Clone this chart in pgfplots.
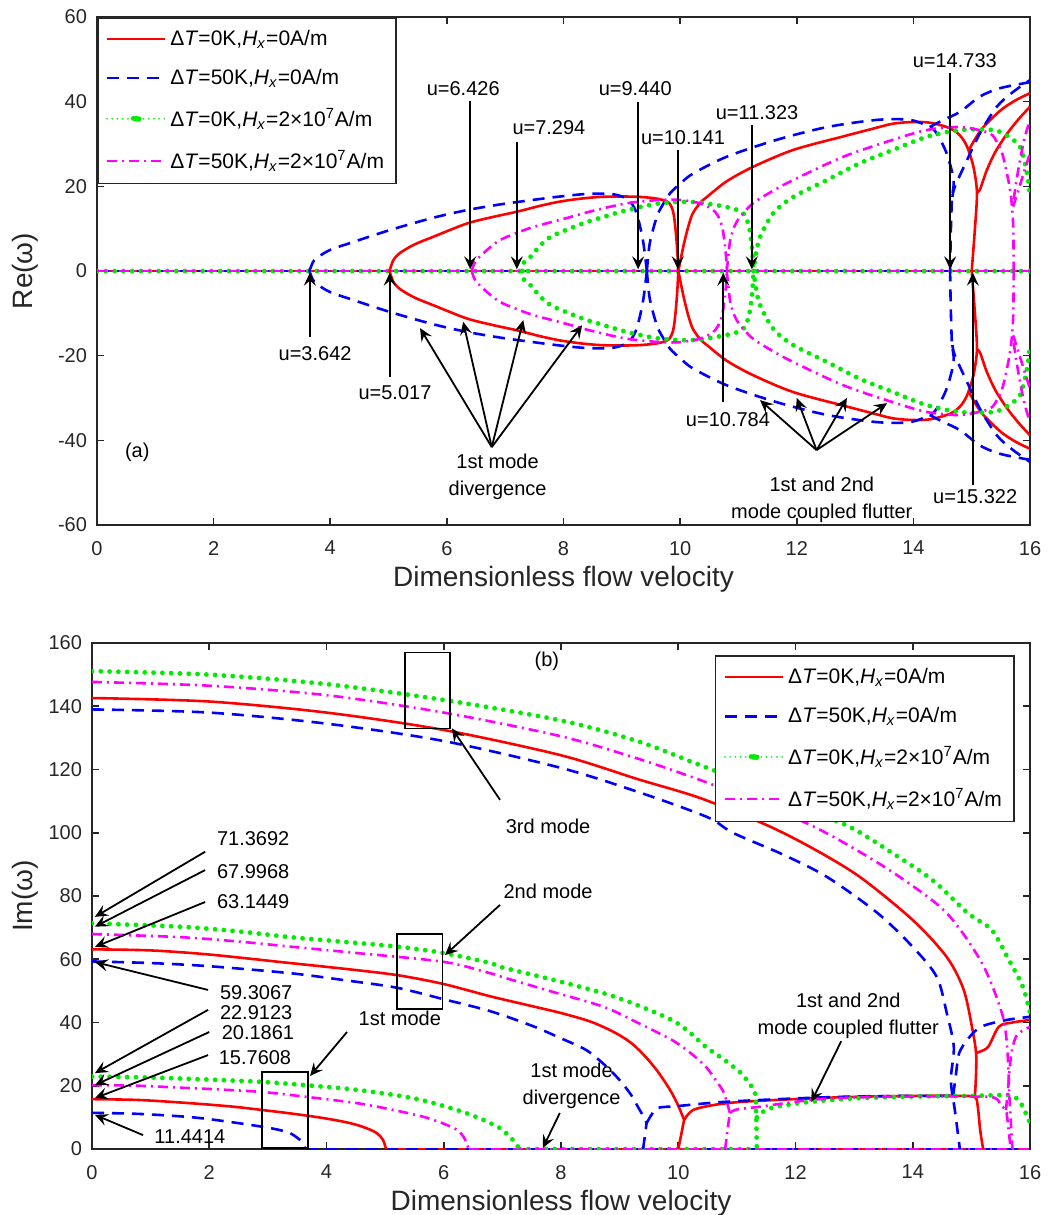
\documentclass[border=0pt]{standalone}
\usepackage{fontspec}
\setmainfont{Liberation Sans}
\usepackage{pgfplots}
\pgfplotsset{compat=1.18}
\usepackage{pgfplotstable}
\usetikzlibrary{arrows.meta}

\definecolor{cR}{RGB}{255,0,0}
\definecolor{cB}{RGB}{0,0,255}
\definecolor{cG}{RGB}{0,235,0}
\definecolor{cM}{RGB}{255,0,255}
\definecolor{axc}{RGB}{38,38,38}

\newcommand{\DT}{Δ\textit{T}}
\newcommand{\Hx}{\textit{H}\textsubscript{\textit{x}}}

% ---------- top chart (upper halves, mirrored for lower halves) ----------
\pgfplotstableread{
x y
5.017 0
5.08 2.5
5.2 4.3
5.45 6.3
5.77 8.1
6.34 11.2
6.8 12.8
7.2 14.0
7.6 15.4
7.94 16.4
8.3 17.1
8.63 17.5
9.0 17.6
9.31 17.5
9.6 17.1
9.8 16.2
9.88 14
9.92 10
9.95 5
9.97 0
}\rDiv
\pgfplotstableread{
x y
9.97 0
10.02 3.5
10.08 7.3
10.15 11
10.22 13.7
10.35 16.2
10.46 17.5
10.8 21.2
11.25 24.6
11.94 28.6
12.8 31.8
13.3 33.6
13.65 34.8
14.0 35.2
14.3 35.0
14.63 33.7
14.8 32.0
14.92 29.4
15.03 24.6
15.09 18.4
15.05 9
15.0 0
}\rFl
\pgfplotstableread{
x y
15.09 18.4
15.15 19.5
15.25 23.5
15.4 28
15.6 32.3
15.8 35.8
16 38.8
}\rPa
\pgfplotstableread{
x y
14.95 28.5
15.05 31
15.2 34
15.5 38
15.75 40.3
16 42
}\rPb
\pgfplotstableread{
x y
3.642 0
3.7 2
3.77 3.1
4.0 5.0
4.34 6.6
4.8 8.7
5.2 10.4
5.8 12.7
6.35 14.4
6.9 15.7
7.48 16.8
7.94 17.6
8.4 18.2
8.8 18.2
9.0 17.6
9.14 16.4
9.23 14.5
9.3 11.3
9.37 6.6
9.43 0
}\bDiv
\pgfplotstableread{
x y
9.43 0
9.48 6.6
9.6 12.8
9.7 15.6
9.83 18.4
10.0 20.6
10.22 23
10.8 27
11.66 31
12.52 34
13.38 35.7
13.94 35.7
14.28 34
14.4 32.5
14.57 27.8
14.69 21.5
14.66 16.8
14.64 8
14.63 0
}\bFl
\pgfplotstableread{
x y
14.67 17.5
14.71 19.9
14.92 26.2
15.14 32.5
15.43 38.8
15.7 42.2
16 45.1
}\bPa
\pgfplotstableread{
x y
14.28 34
14.5 35.6
14.8 37.6
15.14 41.2
15.49 43.2
16 44.6
}\bPb
\pgfplotstableread{
x y
6.426 0
6.47 1.8
6.52 2.8
6.7 5.1
6.91 7.3
7.2 9
7.48 10.4
8.0 12.3
8.5 14.2
9.09 16.0
9.66 16.8
10.0 16.8
10.34 16.0
10.55 14.6
10.65 13
10.72 10.5
10.76 7
10.79 3
10.8 0
}\mDiv
\pgfplotstableread{
x y
10.8 0
10.83 4
10.86 7.3
10.93 10.5
11.03 12.8
11.25 16
11.6 19
11.94 21.5
12.8 27
13.65 31
14.23 33.3
14.8 34
15.3 32.6
15.45 30
15.54 27
15.66 19
15.71 11.3
15.72 0
}\mFl
\pgfplotstableread{
x y
15.71 15.2
15.8 19
15.9 23.5
16 27.8
}\mPa
\pgfplotstableread{
x y
15.72 17
15.8 24
15.9 31
16 35.7
}\mPb
\pgfplotstableread{
x y
7.294 0
7.32 2
7.43 3.3
7.6 6
7.77 8
7.94 9.1
8.34 11.3
8.5 12
9.09 14.4
9.66 16
10.22 16.3
10.8 15.1
11.08 13.7
11.18 10.5
11.23 6
11.26 0
}\gDiv
\pgfplotstableread{
x y
11.26 0
11.3 4
11.37 8
11.6 13.7
11.94 17.5
12.52 21.5
13.09 25.5
13.65 28.6
14.23 31.7
14.8 33.3
15.37 33.3
15.6 32
15.83 29.3
15.95 23
16 17.5
}\gFl

\pgfplotsset{
  pR/.style={color=cR, line width=1.3pt, solid,
    legend image code/.code={\draw[cR,line width=1.3pt] (0pt,0pt) -- (29pt,0pt);}},
  pB/.style={color=cB, line width=1.3pt, dash pattern=on 6pt off 4pt,
    legend image code/.code={\draw[cB,line width=1.3pt,dash pattern=on 6pt off 4pt] (0pt,0pt) -- (29pt,0pt);}},
  pG/.style={color=cG, line width=2.4pt, dash pattern=on 0pt off 4.4pt, line cap=round,
    legend image code/.code={\draw[cG,line width=0.9pt,dash pattern=on 0pt off 2.6pt,line cap=round] (0pt,0pt) -- (29pt,0pt);
      \fill[cG] (14.5pt,0pt) circle (1.5pt);}},
  pM/.style={color=cM, line width=1.3pt, dash pattern=on 5pt off 2.5pt on 1pt off 2.5pt,
    legend image code/.code={\draw[cM,line width=1.3pt,dash pattern=on 5pt off 2.5pt on 1pt off 2.5pt] (0pt,0pt) -- (29pt,0pt);}},
  myax/.style={
    scale only axis, xmin=0, xmax=16, xtick={0,2,...,16},
    axis line style={axc, line width=0.8pt},
    every tick/.style={axc, line width=0.8pt},
    major tick length=3.5pt, tick align=inside,
    tick label style={font=\fontsize{10}{12}\selectfont, text=axc},
    xticklabel style={yshift=-4.5pt},
    yticklabel style={xshift=-1.5pt},
    /pgf/number format/assume math mode=true,
    label style={font=\fontsize{14}{16}\selectfont, text=axc},
    xlabel style={at={(axis description cs:0.5,0)}, anchor=center, yshift=-27pt},
    legend cell align=left,
    legend style={draw=axc, line width=0.8pt, fill=white,
      font=\fontsize{10.5}{12.6}\selectfont, inner xsep=4pt, inner ysep=4pt,
      row sep=6.5pt, /tikz/every even column/.append style={column sep=2pt}},
  },
}
\tikzset{
  arr/.style={-{Stealth[length=6.5pt,width=6pt,inset=2.5pt]}, line width=0.9pt, black},
  lab/.style={font=\fontsize{10}{13.5}\selectfont, text=black, inner sep=0pt, align=center},
}

\begin{document}
\begin{tikzpicture}
\useasboundingbox (0pt,0pt) rectangle (529pt,-607.5pt);

% ===================== (a) =====================
\begin{axis}[myax, at={(48.5pt,-8.5pt)}, anchor=north west,
  width=466.5pt, height=254pt,
  ymin=-60, ymax=60, ytick={-60,-40,...,60},
  xlabel={Dimensionless flow velocity},
  ylabel={Re(ω)},
  ylabel style={at={(axis description cs:-0.0772,0.5)}, anchor=center},
  legend style={at={(0,1)}, anchor=north west},
]
\addplot[pR] coordinates {(0,0) (16,0)};
\addlegendentry{\DT=0K,\Hx=0A/m}
\addplot[pB] coordinates {(0,0) (16,0)};
\addlegendentry{\DT=50K,\Hx=0A/m}
\addplot[pG] coordinates {(0,0) (16,0)};
\addlegendentry{\DT=0K,\Hx=2×10\textsuperscript{7}A/m}
\addplot[pM] coordinates {(0,0) (16,0)};
\addlegendentry{\DT=50K,\Hx=2×10\textsuperscript{7}A/m}

% red
\addplot[pR, smooth, forget plot] table {\rDiv};
\addplot[pR, smooth, forget plot] table[y expr=-\thisrow{y}] {\rDiv};
\addplot[pR, smooth, forget plot] table {\rFl};
\addplot[pR, smooth, forget plot] table[y expr=-\thisrow{y}] {\rFl};
\addplot[pR, smooth, forget plot] table {\rPa};
\addplot[pR, smooth, forget plot] table[y expr=-\thisrow{y}] {\rPa};
\addplot[pR, smooth, forget plot] table {\rPb};
\addplot[pR, smooth, forget plot] table[y expr=-\thisrow{y}] {\rPb};
% blue
\addplot[pB, smooth, forget plot] table {\bDiv};
\addplot[pB, smooth, forget plot] table[y expr=-\thisrow{y}] {\bDiv};
\addplot[pB, smooth, forget plot] table {\bFl};
\addplot[pB, smooth, forget plot] table[y expr=-\thisrow{y}] {\bFl};
\addplot[pB, smooth, forget plot] table {\bPa};
\addplot[pB, smooth, forget plot] table[y expr=-\thisrow{y}] {\bPa};
\addplot[pB, smooth, forget plot] table {\bPb};
\addplot[pB, smooth, forget plot] table[y expr=-\thisrow{y}] {\bPb};
% green
\addplot[pG, smooth, forget plot] table {\gDiv};
\addplot[pG, smooth, forget plot] table[y expr=-\thisrow{y}] {\gDiv};
\addplot[pG, smooth, forget plot] table {\gFl};
\addplot[pG, smooth, forget plot] table[y expr=-\thisrow{y}] {\gFl};
% magenta
\addplot[pM, smooth, forget plot] table {\mDiv};
\addplot[pM, smooth, forget plot] table[y expr=-\thisrow{y}] {\mDiv};
\addplot[pM, smooth, forget plot] table {\mFl};
\addplot[pM, smooth, forget plot] table[y expr=-\thisrow{y}] {\mFl};
\addplot[pM, smooth, forget plot] table {\mPa};
\addplot[pM, smooth, forget plot] table[y expr=-\thisrow{y}] {\mPa};
\addplot[pM, smooth, forget plot] table {\mPb};
\addplot[pM, smooth, forget plot] table[y expr=-\thisrow{y}] {\mPb};

% annotations
\node[lab] at (axis cs:6.28,43.2) {u=6.426};
\draw[arr] (axis cs:6.40,40.2) -- (axis cs:6.40,0.4);
\node[lab] at (axis cs:7.75,33.8) {u=7.294};
\draw[arr] (axis cs:7.2,30.5) -- (axis cs:7.2,0.4);
\node[lab] at (axis cs:9.23,43.2) {u=9.440};
\draw[arr] (axis cs:9.28,39.9) -- (axis cs:9.28,0.4);
\node[lab] at (axis cs:10.05,31.4) {u=10.141};
\draw[arr] (axis cs:9.96,28.6) -- (axis cs:9.96,0.4);
\node[lab] at (axis cs:11.32,37.3) {u=11.323};
\draw[arr] (axis cs:11.23,34.5) -- (axis cs:11.23,0.4);
\node[lab] at (axis cs:14.71,49.8) {u=14.733};
\draw[arr] (axis cs:14.63,46.8) -- (axis cs:14.63,0.4);
\node[lab] at (axis cs:3.74,-19.4) {u=3.642};
\draw[arr] (axis cs:3.65,-15.6) -- (axis cs:3.65,-0.4);
\node[lab] at (axis cs:5.11,-28.8) {u=5.017};
\draw[arr] (axis cs:5.02,-25) -- (axis cs:5.02,-0.4);
\node[lab] at (axis cs:10.82,-35.2) {u=10.784};
\draw[arr] (axis cs:10.74,-31) -- (axis cs:10.74,-0.4);
\node[lab] at (axis cs:15.06,-53.4) {u=15.322};
\draw[arr] (axis cs:15.02,-50.5) -- (axis cs:15.02,-0.4);

\node[lab] at (axis cs:6.87,-48.5) {1st mode\\divergence};
\draw[arr] (axis cs:6.77,-41.6) -- (axis cs:5.54,-13.5);
\draw[arr] (axis cs:6.77,-41.6) -- (axis cs:6.28,-12);
\draw[arr] (axis cs:6.77,-41.6) -- (axis cs:7.31,-11.6);
\draw[arr] (axis cs:6.77,-41.6) -- (axis cs:8.32,-12.8);

\node[lab] at (axis cs:12.43,-54) {1st and 2nd\\mode coupled flutter};
\draw[arr] (axis cs:12.34,-42.3) -- (axis cs:11.37,-30.5);
\draw[arr] (axis cs:12.34,-42.3) -- (axis cs:12.0,-30);
\draw[arr] (axis cs:12.34,-42.3) -- (axis cs:12.86,-30);
\draw[arr] (axis cs:12.34,-42.3) -- (axis cs:13.55,-31.2);

\node[lab] at (axis cs:0.69,-42.8) {(a)};
\end{axis}

% ===================== (b) =====================
\begin{axis}[myax, at={(46pt,-321.5pt)}, anchor=north west,
  width=469pt, height=253pt,
  ymin=0, ymax=160, ytick={0,20,...,160},
  xlabel={Dimensionless flow velocity},
  ylabel={Im(ω)},
  ylabel style={at={(axis description cs:-0.0714,0.5)}, anchor=center},
  legend style={at={(axis description cs:0.664,0.976)}, anchor=north west},
]
\addplot[pR] coordinates {(5.017,0) (16,0)};
\addlegendentry{\DT=0K,\Hx=0A/m}
\addplot[pB] coordinates {(3.642,0) (16,0)};
\addlegendentry{\DT=50K,\Hx=0A/m}
\addplot[pG] coordinates {(7.294,0) (11.34,0)};
\addlegendentry{\DT=0K,\Hx=2×10\textsuperscript{7}A/m}
\addplot[pM] coordinates {(6.426,0) (16,0)};
\addlegendentry{\DT=50K,\Hx=2×10\textsuperscript{7}A/m}

% red
\addplot[pR, smooth, forget plot] coordinates {(0,15.76)(0.8,15.5)(1.67,14.5)(2.4,13.4)(2.92,12.3)(3.45,11.1)(3.94,9.8)(4.3,8.6)(4.52,7.6)(4.72,6.3)(4.86,5)(4.96,3)(5.017,0)};
\addplot[pR, smooth, forget plot] coordinates {(0,63.14)(1,62.8)(2,61.5)(3.38,58.8)(4.3,57)(5.2,55)(5.99,52.2)(6.79,48.3)(7.5,45.2)(8.0,43)(8.5,40.3)(8.9,37)(9.2,33.5)(9.45,29)(9.65,24.5)(9.85,19)(9.98,14.5)(10.05,11.5)(10.1,9.2)};
\addplot[pR, forget plot] coordinates {(10.0,0)(10.05,4.5)(10.1,9.2)};
\addplot[pR, smooth, forget plot] coordinates {(10.1,9.2)(10.25,12.3)(10.6,13.9)(11.07,14.9)(12,15.8)(13,16.5)(14,16.8)(14.8,16.8)(15.06,16.4)(15.11,13.3)(15.15,6)(15.2,0)};
\addplot[pR, smooth, forget plot] coordinates {(0,142.6)(2,141.5)(4,138)(6,132.5)(8,124.5)(9.3,117)(10.37,111)(11.5,102.5)(12.3,95)(13.1,86)(14.0,72.4)(14.58,60.7)(14.87,50.3)(15.02,37.6)(15.08,30.4)(15.08,24)(15.06,16.4)};
\addplot[pR, smooth, forget plot] coordinates {(15.08,30.4)(15.15,30.8)(15.29,32.4)(15.47,38.7)(15.7,40)(16,40.8)};
% blue
\addplot[pB, smooth, forget plot] coordinates {(0,11.44)(0.8,11.1)(1.67,10.1)(2.3,8.7)(2.92,7)(3.2,6)(3.38,5)(3.52,3.3)(3.6,1.9)(3.642,0)};
\addplot[pB, smooth, forget plot] coordinates {(0,59.31)(1,58.8)(2,57.8)(3.38,55.6)(4.3,53.4)(5.2,51)(5.99,47.4)(6.79,43.6)(7.5,39)(8.0,35)(8.43,31.3)(8.75,26.5)(9.0,21.8)(9.2,17)(9.31,13.4)(9.4,10.5)(9.46,8.2)};
\addplot[pB, forget plot] coordinates {(9.4,0)(9.43,4)(9.46,8.2)};
\addplot[pB, smooth, forget plot] coordinates {(9.46,8.2)(9.55,11)(9.65,13)(10.0,13.6)(10.78,14.9)(12,16)(13,16.6)(14,16.8)(14.7,16.8)};
\addplot[pB, smooth, forget plot] coordinates {(0,139)(2,138)(4,134.5)(6,129)(8,120.5)(9.3,113)(10.49,105)(10.93,100)(11.8,93)(12.54,86)(13.4,74.6)(14.0,63.9)(14.41,54.4)(14.58,43)(14.7,32.3)(14.65,21.8)(14.72,12)(14.79,2)(14.8,0)};
\addplot[pB, smooth, forget plot] coordinates {(14.69,17)(14.74,24)(14.79,30.3)(14.95,35)(15.17,38.7)(15.6,40.8)(16,41.8)};
% green
\addplot[pG, smooth, forget plot] coordinates {(0,22.91)(0.8,22.7)(1.5,22.3)(2.2,21.8)(2.92,21.2)(3.7,20.1)(4.52,18.7)(5.5,16)(6.23,12.3)(6.6,9.8)(6.79,8.2)(6.96,6.6)(7.15,3.5)(7.294,0)};
\addplot[pG, smooth, forget plot] coordinates {(0,71.37)(1.5,70.3)(2.5,68.8)(3.38,67)(4.3,65.5)(5.2,64)(5.99,62)(6.79,58.8)(6.96,57.6)(7.8,53.8)(8.72,49.3)(9.3,45.5)(9.89,40.8)(10.2,36.8)(10.47,32.3)(10.8,28)(11.07,24)(11.22,20.5)(11.31,17.7)(11.33,10)(11.34,0)};
\addplot[pG, smooth, forget plot] coordinates {(11.34,10)(11.41,11.4)(11.65,13.3)(12.25,14.9)(13,16)(14,16.6)(15,16.8)(15.64,17)(15.8,15.5)(15.88,13.3)(16,8.2)};
\addplot[pG, smooth, forget plot] coordinates {(0,151.1)(2,150)(4,147)(6,142)(8,135.5)(9.3,129)(10.37,121.4)(11.2,115.5)(12,109)(12.93,101.8)(13.7,93)(14.34,85)(14.94,74.6)(15.35,69.2)(15.64,59.8)(15.88,51.2)(16,43)};
% magenta
\addplot[pM, smooth, forget plot] coordinates {(0,20.19)(0.8,20)(1.5,19.4)(2.2,18.8)(2.92,18)(3.7,16.4)(4.52,14.5)(5.1,12.5)(5.65,10.2)(6.0,8)(6.23,6)(6.35,3.5)(6.426,0)};
\addplot[pM, smooth, forget plot] coordinates {(0,67.99)(1.5,67)(2.5,65.6)(3.38,64)(4.5,62)(5.99,59.2)(6.79,55.6)(6.96,54.6)(7.8,50)(8.72,45)(9.3,40)(9.89,34.5)(10.2,30.5)(10.47,26)(10.65,21.5)(10.78,17.7)(10.88,11.4)};
\addplot[pM, forget plot] coordinates {(10.8,0)(10.84,6)(10.88,11.4)};
\addplot[pM, smooth, forget plot] coordinates {(10.88,11.4)(11.0,12.5)(11.36,13.3)(12.25,15.5)(13,16.3)(14,16.6)(15,16.6)(15.4,16.2)(15.52,13.4)(15.59,12.3)(15.63,7)(15.67,0)};
\addplot[pM, smooth, forget plot] coordinates {(0,147.7)(2,146.5)(4,143.5)(6,138)(8,130.5)(9.3,123.5)(10.37,116.7)(11.3,110)(12.25,102.5)(13.0,95)(13.78,86)(14.58,74.6)(15.18,58.8)(15.52,43)(15.61,32.4)(15.65,16)(15.7,0)};
\addplot[pM, smooth, forget plot] coordinates {(15.59,12.3)(15.63,20)(15.68,30)(15.76,35.5)(15.88,37.5)(16,38.6)};

% annotations
\draw[black, line width=0.8pt] (axis cs:5.34,133) rectangle (axis cs:6.11,157);
\draw[black, line width=0.8pt] (axis cs:5.2,44.3) rectangle (axis cs:5.98,68);
\draw[black, line width=0.8pt] (axis cs:2.9,0.3) rectangle (axis cs:3.68,24.3);
\node[lab] at (axis cs:7.78,102) {3rd mode};
\draw[arr] (axis cs:6.96,110.4) -- (axis cs:6.14,133);
\node[lab] at (axis cs:7.78,81.6) {2nd mode};
\draw[arr] (axis cs:6.96,77.2) -- (axis cs:6.02,61.3);
\node[lab] at (axis cs:5.25,41.4) {1st mode};
\draw[arr] (axis cs:4.35,37) -- (axis cs:3.72,23.1);

\node[lab] at (axis cs:2.75,98) {71.3692};
\draw[arr] (axis cs:1.93,94) -- (axis cs:0.05,73.4);
\node[lab] at (axis cs:2.75,87.6) {67.9968};
\draw[arr] (axis cs:1.93,88.2) -- (axis cs:0.05,70.3);
\node[lab] at (axis cs:2.75,78.1) {63.1449};
\draw[arr] (axis cs:1.93,78.1) -- (axis cs:0.05,63.9);
\node[lab] at (axis cs:2.8,49.6) {59.3067};
\draw[arr] (axis cs:1.98,50.3) -- (axis cs:0.05,59.1);
\node[lab] at (axis cs:2.8,43) {22.9123};
\draw[arr] (axis cs:1.98,44) -- (axis cs:0.05,24);
\node[lab] at (axis cs:2.83,36.7) {20.1861};
\draw[arr] (axis cs:2.0,37) -- (axis cs:0.05,20.2);
\node[lab] at (axis cs:2.78,29) {15.7608};
\draw[arr] (axis cs:1.98,29.7) -- (axis cs:0.05,16.1);
\node[lab] at (axis cs:1.67,3.8) {11.4414};
\draw[arr] (axis cs:0.87,4.4) -- (axis cs:0.05,10.8);

\node[lab] at (axis cs:7.76,154.3) {(b)};
\node[lab] at (axis cs:8.18,20) {1st mode\\divergence};
\draw[arr] (axis cs:7.98,11.4) -- (axis cs:7.69,0.3);
\node[lab] at (axis cs:12.9,42) {1st and 2nd\\mode coupled flutter};
\draw[arr] (axis cs:12.78,34.1) -- (axis cs:12.27,14.9);
\end{axis}
\end{tikzpicture}
\end{document}
